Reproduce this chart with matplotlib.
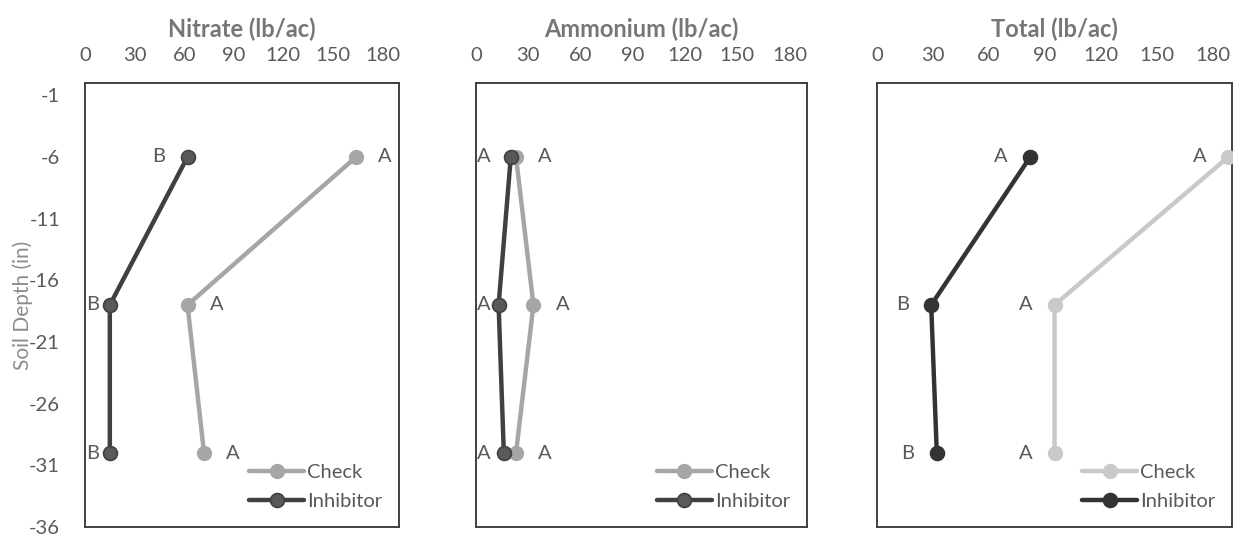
import matplotlib.pyplot as plt

plt.rcParams['font.family'] = ['Lato', 'DejaVu Sans']
plt.rcParams['axes.unicode_minus'] = False

depth = [-6, -18, -30]

nitrate_check = [164, 62, 72]
nitrate_inhib = [62, 15, 15]
ammonium_check = [23, 33, 23]
ammonium_inhib = [20, 13, 16]
total_check = [188, 95, 95]
total_inhib = [82, 29, 32]

nitrate_check_lbl = ['A', 'A', 'A']
nitrate_inhib_lbl = ['B', 'B', 'B']
ammonium_check_lbl = ['A', 'A', 'A']
ammonium_inhib_lbl = ['A', 'A', 'A']
total_check_lbl = ['A', 'A', 'A']
total_inhib_lbl = ['A', 'B', 'B']

titles = ['Nitrate (lb/ac)', 'Ammonium (lb/ac)', 'Total (lb/ac)']
x_ticks = [0, 30, 60, 90, 120, 150, 180]
y_ticks = [-36, -31, -26, -21, -16, -11, -6, -1]
XMAX = 190

txt = '#595959'
W = 1234
boxes = [[0.0689, 0.0131, 0.2545, 0.8315],
         [0.3857, 0.0131, 0.2682, 0.8315],
         [0.7107, 0.0131, 0.2877, 0.8315]]

# side of the letter label: +1 right, -1 left
panels = [
    (nitrate_check, nitrate_inhib, nitrate_check_lbl, nitrate_inhib_lbl,
     '#A6A6A6', '#404040', '#595959', 1, -1),
    (ammonium_check, ammonium_inhib, ammonium_check_lbl, ammonium_inhib_lbl,
     '#A6A6A6', '#404040', '#595959', 1, -1),
    (total_check, total_inhib, total_check_lbl, total_inhib_lbl,
     '#C9C9C9', '#333333', '#333333', -1, -1),
]

fig = plt.figure(figsize=(12.34, 5.34), dpi=100)


def letters(ax, xs, ys, labels, side, pxu):
    off = 29 / pxu
    lo, hi = 8 / pxu, XMAX - 8 / pxu
    for x, y, s in zip(xs, ys, labels):
        lx = min(max(x + side * off, lo), hi)
        ax.text(lx, y, s, ha='center', va='center', fontsize=14.5,
                color=txt, zorder=1)


for i, (box, title, p) in enumerate(zip(boxes, titles, panels)):
    chk, inh, chk_lbl, inh_lbl, c_chk, c_inh, face_inh, s_chk, s_inh = p
    ax = fig.add_axes(box)
    ax.plot(chk, depth, color=c_chk, lw=3.2, marker='o', ms=10,
            mfc=c_chk, mec=c_chk, label='Check', solid_capstyle='round', zorder=3)
    ax.plot(inh, depth, color=c_inh, lw=3.2, marker='o', ms=10,
            mfc=face_inh, mec=c_inh, mew=1.2, label='Inhibitor',
            solid_capstyle='round', zorder=4)
    pxu = box[2] * W / XMAX
    letters(ax, chk, depth, chk_lbl, s_chk, pxu)
    letters(ax, inh, depth, inh_lbl, s_inh, pxu)

    ax.set_xlim(0, XMAX)
    ax.set_ylim(-36, 0)
    ax.xaxis.tick_top()
    ax.set_xticks(x_ticks)
    ax.tick_params(axis='x', length=0, labelsize=14.5, labelcolor=txt, pad=14)
    ax.set_title(title, fontsize=17, fontweight='bold', color='#767676', pad=33)
    if i == 0:
        ax.set_yticks(y_ticks)
        ax.tick_params(axis='y', length=0, labelsize=14.5, labelcolor=txt, pad=18)
        ax.set_ylabel('Soil Depth (in)', fontsize=15, color='#8C8C8C')
        ax.yaxis.set_label_coords(-0.165, 0.5)
    else:
        ax.set_yticks([])
    for sp in ax.spines.values():
        sp.set_color('#404040')
        sp.set_linewidth(1.4)

    ax.legend(loc='lower right', frameon=False, fontsize=14.5,
              handlelength=2.7, handletextpad=0.15, labelspacing=0.6,
              borderaxespad=0.45, labelcolor=txt)

fig.savefig('out.png', dpi=100)
